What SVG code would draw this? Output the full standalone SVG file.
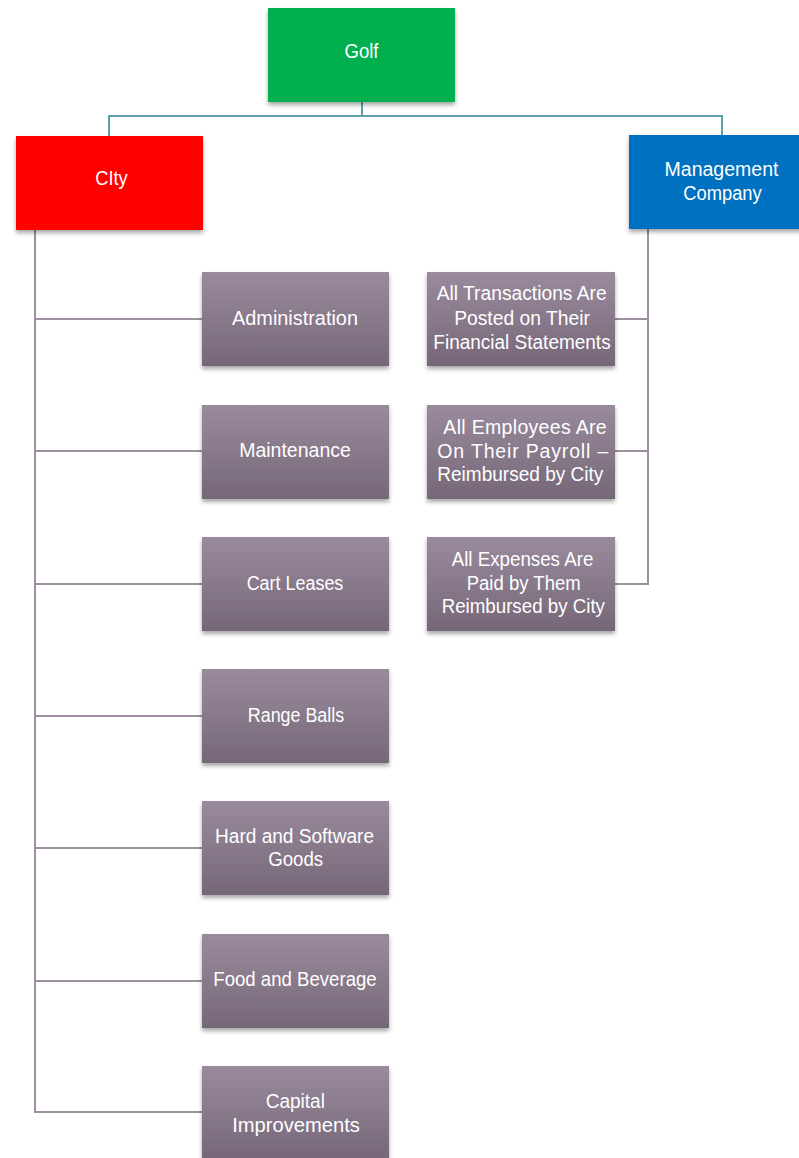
<svg xmlns="http://www.w3.org/2000/svg" width="799" height="1158" viewBox="0 0 799 1158">
<style>
text{font-family:"Liberation Sans",Arial,sans-serif;font-size:19.5px;fill:#fff;text-anchor:middle}
.top{stroke:#5F9FA9;stroke-width:2;fill:none}
.sub{stroke:#9D8F9F;stroke-width:2;fill:none}
.box{fill:url(#g);filter:url(#sh)}
</style>
<defs>
<linearGradient id="g" x1="0" y1="0" x2="0" y2="1">
<stop offset="0" stop-color="#9A8A9D"/>
<stop offset="1" stop-color="#756778"/>
</linearGradient>
<filter id="sh" x="-10%" y="-10%" width="120%" height="130%">
<feDropShadow dx="0" dy="3" stdDeviation="2" flood-color="#000" flood-opacity="0.35"/>
</filter>
</defs>
<g id="connectors">
<polyline class="top" points="362,102 362,116 109,116 109,136"/>
<polyline class="top" points="362,116 722,116 722,135"/>
<polyline class="sub" points="35,230 35,1112 202,1112"/>
<line class="sub" x1="35" y1="319" x2="202" y2="319"/>
<line class="sub" x1="35" y1="451" x2="202" y2="451"/>
<line class="sub" x1="35" y1="584" x2="202" y2="584"/>
<line class="sub" x1="35" y1="716" x2="202" y2="716"/>
<line class="sub" x1="35" y1="848" x2="202" y2="848"/>
<line class="sub" x1="35" y1="981" x2="202" y2="981"/>
<polyline class="sub" points="648,229 648,584 615,584"/>
<line class="sub" x1="648" y1="319" x2="615" y2="319"/>
<line class="sub" x1="648" y1="451" x2="615" y2="451"/>
</g>
<g id="golf"><rect x="268" y="8" width="187" height="94" fill="#00B050" filter="url(#sh)"/><text x="361.5" y="58" textLength="34" lengthAdjust="spacingAndGlyphs">Golf</text></g>
<g id="city"><rect x="16" y="136" width="187" height="94" fill="#FF0000" filter="url(#sh)"/><text x="111.5" y="185" textLength="32.6" lengthAdjust="spacingAndGlyphs">CIty</text></g>
<g id="mgmt"><rect x="629" y="135" width="187" height="94" fill="#0070C0" filter="url(#sh)"/><text x="721.5" y="176" textLength="114" lengthAdjust="spacingAndGlyphs">Management</text><text x="722.5" y="200" textLength="78.4" lengthAdjust="spacingAndGlyphs">Company</text></g>
<g id="admin"><rect class="box" x="202" y="272" width="187" height="94"/><text x="295" y="325" textLength="126" lengthAdjust="spacingAndGlyphs">Administration</text></g>
<g id="maint"><rect class="box" x="202" y="405" width="187" height="94"/><text x="295" y="456.5" textLength="111.7" lengthAdjust="spacingAndGlyphs">Maintenance</text></g>
<g id="cart"><rect class="box" x="202" y="537" width="187" height="94"/><text x="295" y="589.5" textLength="96.7" lengthAdjust="spacingAndGlyphs">Cart Leases</text></g>
<g id="range"><rect class="box" x="202" y="669" width="187" height="94"/><text x="296" y="722" textLength="96.3" lengthAdjust="spacingAndGlyphs">Range Balls</text></g>
<g id="hard"><rect class="box" x="202" y="801" width="187" height="94"/><text x="294.5" y="842.7" textLength="159" lengthAdjust="spacingAndGlyphs">Hard and Software</text><text x="295.7" y="865.7" textLength="55" lengthAdjust="spacingAndGlyphs">Goods</text></g>
<g id="food"><rect class="box" x="202" y="934" width="187" height="94"/><text x="295" y="986" textLength="163.4" lengthAdjust="spacingAndGlyphs">Food and Beverage</text></g>
<g id="capital"><rect class="box" x="202" y="1066" width="187" height="94"/><text x="295.3" y="1107.7" textLength="59.3" lengthAdjust="spacingAndGlyphs">Capital</text><text x="296" y="1131.7" textLength="127.7" lengthAdjust="spacingAndGlyphs">Improvements</text></g>
<g id="trans"><rect class="box" x="427" y="272" width="188" height="94"/>
<text x="521.7" y="300" textLength="170" lengthAdjust="spacingAndGlyphs">All Transactions Are</text>
<text x="522" y="324.5" textLength="135.7" lengthAdjust="spacingAndGlyphs">Posted on Their</text>
<text x="522" y="348.5" textLength="177.3" lengthAdjust="spacingAndGlyphs">Financial Statements</text></g>
<g id="employees"><rect class="box" x="427" y="405" width="188" height="94"/>
<text x="525" y="433.5" textLength="163.3" lengthAdjust="spacing">All Employees Are</text>
<text x="522.8" y="457.5" textLength="171" lengthAdjust="spacing">On Their Payroll –</text>
<text x="520.3" y="481" textLength="166" lengthAdjust="spacingAndGlyphs">Reimbursed by City</text></g>
<g id="expenses"><rect class="box" x="427" y="537" width="188" height="94"/>
<text x="522.5" y="566" textLength="141.7" lengthAdjust="spacingAndGlyphs">All Expenses Are</text>
<text x="523.7" y="590" textLength="114" lengthAdjust="spacingAndGlyphs">Paid by Them</text>
<text x="523.3" y="613.3" textLength="163.3" lengthAdjust="spacingAndGlyphs">Reimbursed by City</text></g>
</svg>
